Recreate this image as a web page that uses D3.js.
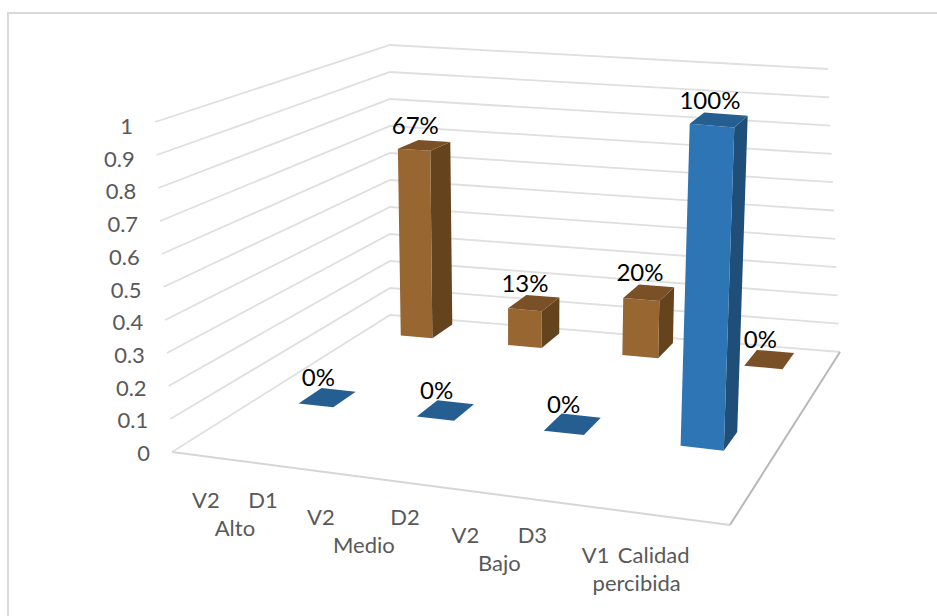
<!DOCTYPE html>
<html>
<head>
<meta charset="utf-8">
<title>Calidad percibida</title>
<script src="https://cdn.jsdelivr.net/npm/d3@7"></script>
<style>
    html, body { margin: 0; background: #fff; }
    svg { display: block; }
    text { font-family: Lato, "Open Sans", sans-serif; }
</style>
</head>
<body>
<div id="chart-container"></div>
<script>
// Chart data
const valueTicks = [0, 0.1, 0.2, 0.3, 0.4, 0.5, 0.6, 0.7, 0.8, 0.9, 1];
const variableLabels = ["V2", "V2", "V2", "V1"];
const dimensionLabels = ["D1", "D2", "D3", "Calidad"];
const levelLabels = ["Alto", "Medio", "Bajo", "percibida"];
const frontValues = [0, 0, 0, 1];
const backValues = [0.67, 0.13, 0.2, 0];

// Horizontal nudges for the multi-level axis labels
const variableDx = [-29, -42, -36, -56];
const dimensionDx = [28, 42, 31, 2];
const levelDx = [0, 1, -2, -15];

const width = 937;
const height = 616;

const svg = d3.select("#chart-container")
    .append("svg")
    .attr("width", width)
    .attr("height", height);

// Chart frame: only the top and left edges show
svg.append("path")
    .attr("d", d3.line()([[8, 616], [8, 13], [937, 13]]))
    .attr("fill", "none")
    .attr("stroke", "#d9d9d9")
    .attr("stroke-width", 2);

// Wall edges, value -> screen point. The array interpolator reuses its output, so copy it.
const edgeScale = (bottom, top) => {
    const scale = d3.scaleLinear().domain([0, 1]).range([bottom, top]);
    return (t) => [...scale(t)];
};
const leftEdge = edgeScale([172, 452], [155, 122]);
const cornerEdge = edgeScale([390, 315], [390, 45]);
const rightEdge = edgeScale([840, 352], [828, 69]);
const frontRight = [730, 525];

// Floor plane: (u, v) in the unit square -> screen, through a homography
const floorHomography = (p0, p1, p2, p3) => {
    const dx1 = p1[0] - p2[0], dx2 = p3[0] - p2[0], sx = p0[0] - p1[0] + p2[0] - p3[0];
    const dy1 = p1[1] - p2[1], dy2 = p3[1] - p2[1], sy = p0[1] - p1[1] + p2[1] - p3[1];
    const det = dx1 * dy2 - dx2 * dy1;
    const g = (sx * dy2 - dx2 * sy) / det;
    const h = (dx1 * sy - sx * dy1) / det;
    const a = p1[0] - p0[0] + g * p1[0], b = p3[0] - p0[0] + h * p3[0];
    const d = p1[1] - p0[1] + g * p1[1], e = p3[1] - p0[1] + h * p3[1];
    return (u, v) => {
        const w = 1 + g * u + h * v;
        return [(a * u + b * v + p0[0]) / w, (d * u + e * v + p0[1]) / w];
    };
};
const floor = floorHomography(leftEdge(0), frontRight, rightEdge(0), cornerEdge(0));

const uScale = d3.scalePoint().domain(d3.range(4)).range([0.13, 0.878]);
const vFront = 0.385;
const vBack = 0.905;
const barDu = 0.075;
const barDvFront = 0.105;
const barDvBack = 0.12;

// Screen rise of one value unit at a floor position
const leanX = d3.scaleLinear().domain([0, 1]).range([-6, 12]);
const riseFront = d3.scaleLinear().domain([0, 1]).range([330, 346]);
const riseBack = d3.scaleLinear().domain([0, 1]).range([268, 281]);
const project = (u, v, value) => {
    const [x, y] = floor(u, v);
    const rise = d3.interpolateNumber(riseFront(u), riseBack(u))(v);
    return [x + leanX(u) * value, y - rise * value];
};

// Gridlines
const line = d3.line();
svg.append("g")
    .selectAll("path")
    .data(valueTicks)
    .enter()
    .append("path")
    .attr("d", (t) => line([leftEdge(t), cornerEdge(t), rightEdge(t)]))
    .attr("fill", "none")
    .attr("stroke", "#dfdfdf")
    .attr("stroke-width", 1.8);

// Front edges of the floor
svg.append("path")
    .attr("d", line([leftEdge(0), frontRight]))
    .attr("fill", "none")
    .attr("stroke", "#d6d6d6")
    .attr("stroke-width", 2);
svg.append("path")
    .attr("d", line([frontRight, rightEdge(0)]))
    .attr("fill", "none")
    .attr("stroke", "#b8b8b8")
    .attr("stroke-width", 2);

// Value axis labels follow the left wall edge
svg.append("g")
    .selectAll("text")
    .data(valueTicks)
    .enter()
    .append("text")
    .attr("x", (t) => leftEdge(t)[0] - 22)
    .attr("y", (t) => leftEdge(t)[1] + 9 + 3 * t)
    .attr("text-anchor", "end")
    .attr("font-size", 22)
    .attr("fill", "#595959")
    .text((t) => d3.format("")(t));

// Bars: back row first so the front row sits over it
const blue = { front: "#2e75b6", side: "#1f4e79", top: "#255e91" };
const brown = { front: "#976631", side: "#65431d", top: "#7a5126" };
const bars = [
    ...backValues.map((value, i) => ({ value, i, v: vBack, dv: barDvBack, colors: brown })),
    ...frontValues.map((value, i) => ({ value, i, v: vFront, dv: barDvFront, colors: blue })),
];

const quad = (points) => line(points) + "Z";
const barG = svg.append("g")
    .selectAll("g")
    .data(bars)
    .enter()
    .append("g");

barG.each(function (d) {
    const u0 = uScale(d.i) - barDu / 2, u1 = uScale(d.i) + barDu / 2;
    const v0 = d.v - d.dv / 2, v1 = d.v + d.dv / 2;
    const g = d3.select(this);
    if (d.value > 0) {
        g.append("path")
            .attr("d", quad([project(u1, v0, 0), project(u1, v1, 0), project(u1, v1, d.value), project(u1, v0, d.value)]))
            .attr("fill", d.colors.side);
        g.append("path")
            .attr("d", quad([project(u0, v0, 0), project(u1, v0, 0), project(u1, v0, d.value), project(u0, v0, d.value)]))
            .attr("fill", d.colors.front);
    }
    g.append("path")
        .attr("d", quad([project(u0, v0, d.value), project(u1, v0, d.value), project(u1, v1, d.value), project(u0, v1, d.value)]))
        .attr("fill", d.colors.top);
});

// Data labels above each bar
svg.append("g")
    .selectAll("text")
    .data(bars)
    .enter()
    .append("text")
    .attr("x", (d) => project(uScale(d.i), d.v, d.value)[0] - 9)
    .attr("y", (d) => project(uScale(d.i), d.v, d.value)[1] - 11)
    .attr("text-anchor", "middle")
    .attr("font-size", 24)
    .attr("fill", "#000")
    .text((d) => d3.format(".0%")(d.value));

// Multi-level category labels hang off the front edge of the floor
const axisRow = (labels, dx, dy) => svg.append("g")
    .selectAll("text")
    .data(labels)
    .enter()
    .append("text")
    .attr("x", (d, i) => floor(uScale(i), 0)[0] + dx[i])
    .attr("y", (d, i) => floor(uScale(i), 0)[1] + dy)
    .attr("text-anchor", "middle")
    .attr("font-size", 22)
    .attr("fill", "#595959")
    .text((d) => d);

axisRow(variableLabels, variableDx, 48);
axisRow(dimensionLabels, dimensionDx, 48);
axisRow(levelLabels, levelDx, 76);
</script>
</body>
</html>
